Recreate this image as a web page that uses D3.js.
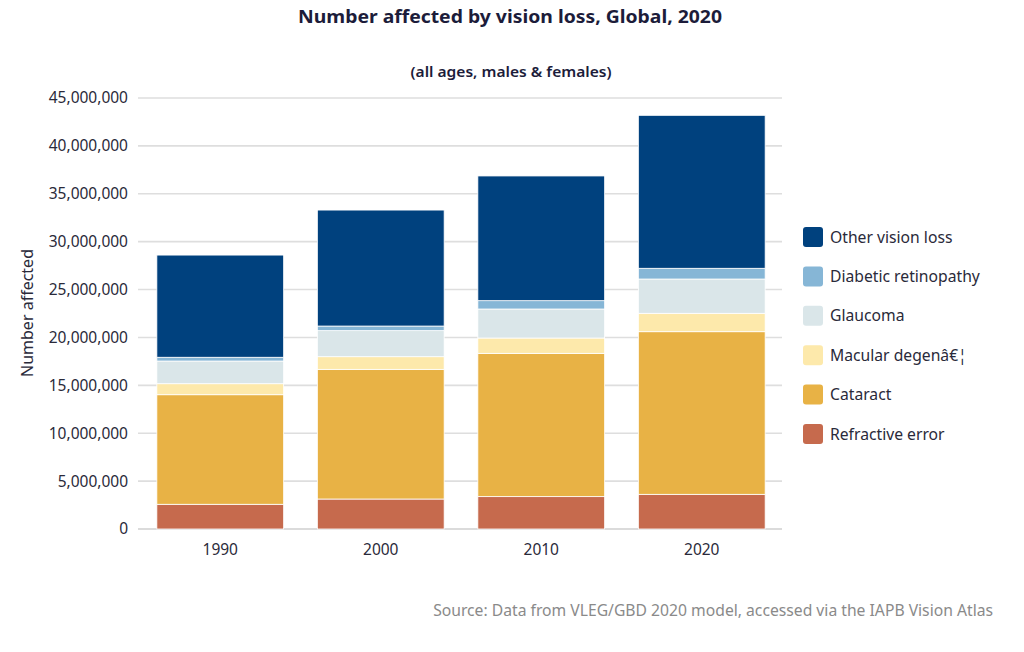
<!DOCTYPE html>
<html><head><meta charset="utf-8">
<script src="https://cdn.jsdelivr.net/npm/d3@7"></script>
<style>body{margin:0;background:#fff;}svg{display:block;font-family:"Noto Sans",sans-serif;}</style>
</head><body><svg id="c" width="1024" height="652"></svg>
<script>
const years = ["1990","2000","2010","2020"];
const seriesNames = ["Refractive error","Cataract","Macular degenâ€¦","Glaucoma","Diabetic retinopathy","Other vision loss"];
const refractive = [2.58e6, 3.13e6, 3.38e6, 3.62e6];
const cataract   = [11.44e6, 13.54e6, 14.96e6, 16.98e6];
const macular    = [1.15e6, 1.32e6, 1.60e6, 1.92e6];
const glaucoma   = [2.37e6, 2.72e6, 3.03e6, 3.58e6];
const diabetic   = [0.39e6, 0.48e6, 0.87e6, 1.12e6];
const other      = [10.67e6, 12.11e6, 13.02e6, 15.97e6];
const yTicks = [0,5e6,10e6,15e6,20e6,25e6,30e6,35e6,40e6,45e6];
const colors = ["#c66a4d","#e8b245","#fde9ab","#dae6e9","#86b6d6","#00417e"];

const seriesVals = [refractive,cataract,macular,glaucoma,diabetic,other];
const rows = years.map((y,i)=>{const r={year:y}; seriesNames.forEach((s,j)=>r[s]=seriesVals[j][i]); return r;});
const stack = d3.stack().keys(seriesNames)(rows);

const svg = d3.select("#c");
const x = d3.scaleBand().domain(years).range([140,782]).paddingInner(0.21).paddingOuter(0.105);
const y = d3.scaleLinear().domain([0,45e6]).range([529,98]);

// gridlines
svg.append("g").selectAll("line").data(yTicks).join("line")
  .attr("x1",138).attr("x2",782).attr("y1",d=>y(d)).attr("y2",d=>y(d))
  .attr("stroke",d=>d===0?"#cfcfcf":"#dedede").attr("stroke-width",1.6);

// y axis labels
const yAxis = svg.append("g").attr("transform","translate(138,0)")
  .call(d3.axisLeft(y).tickValues(yTicks).tickFormat(d3.format(",")).tickSize(0).tickPadding(10));
yAxis.select(".domain").remove();
yAxis.selectAll("text").attr("font-size",15.5).attr("fill","#2a2a3a").attr("font-family","Noto Sans");

// x axis labels
const xAxis = svg.append("g").attr("transform","translate(0,529)")
  .call(d3.axisBottom(x).tickSize(0).tickPadding(15));
xAxis.select(".domain").remove();
xAxis.selectAll("text").attr("font-size",15.5).attr("fill","#2a2a3a").attr("font-family","Noto Sans");

// bars
svg.append("g").selectAll("g").data(stack).join("g")
  .attr("fill",(d,i)=>colors[i])
  .selectAll("rect").data(d=>d).join("rect")
  .attr("x",d=>x(d.data.year)).attr("width",x.bandwidth())
  .attr("y",d=>y(d[1])).attr("height",d=>y(d[0])-y(d[1]))
  .attr("stroke","#fff").attr("stroke-width",0.8);

// titles
svg.append("text").attr("x",510).attr("y",23).attr("text-anchor","middle")
  .attr("font-size",18).attr("font-weight","bold").attr("fill","#1c1c3a")
  .attr("textLength",424).attr("lengthAdjust","spacingAndGlyphs")
  .text("Number affected by vision loss, Global, 2020");
svg.append("text").attr("x",511).attr("y",77).attr("text-anchor","middle")
  .attr("font-size",14).attr("font-weight",600).attr("fill","#1c1c3a")
  .attr("textLength",201).attr("lengthAdjust","spacingAndGlyphs")
  .text("(all ages, males & females)");
svg.append("text").attr("transform","translate(33,313) rotate(-90)").attr("text-anchor","middle")
  .attr("font-size",16).attr("fill","#2a2a3a").text("Number affected");

// legend
const legendOrder = seriesNames.slice().reverse();
const lg = svg.append("g").selectAll("g").data(legendOrder).join("g")
  .attr("transform",(d,i)=>`translate(803,${227+i*39.4})`);
lg.append("rect").attr("width",20).attr("height",20).attr("rx",3)
  .attr("fill",d=>colors[seriesNames.indexOf(d)]);
lg.append("text").attr("x",27).attr("y",15.5).attr("font-size",15.7).attr("fill","#2a2a3a").text(d=>d);

// source
svg.append("text").attr("x",993).attr("y",616).attr("text-anchor","end")
  .attr("font-size",15.7).attr("fill","#8a8a8a")
  .text("Source: Data from VLEG/GBD 2020 model, accessed via the IAPB Vision Atlas");
</script></body></html>
